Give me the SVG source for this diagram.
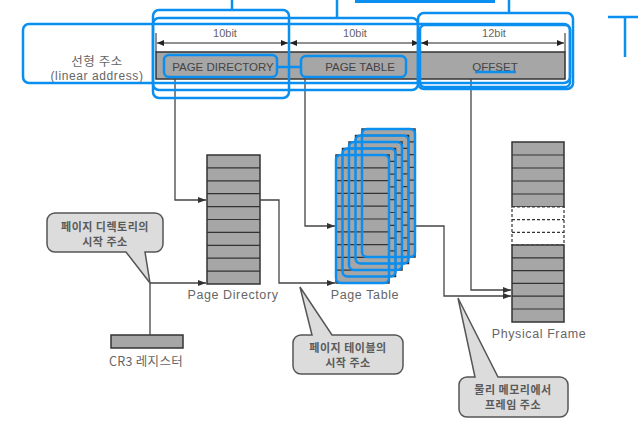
<svg xmlns="http://www.w3.org/2000/svg" width="640" height="433" viewBox="0 0 640 433">
<defs>
<marker id="ah" markerWidth="8" markerHeight="6" refX="8" refY="3" orient="auto" markerUnits="userSpaceOnUse"><path d="M0,0 L8,3 L0,6 z" fill="#333"/></marker>
<marker id="ahs" markerWidth="7" markerHeight="6" refX="7" refY="3" orient="auto-start-reverse" markerUnits="userSpaceOnUse"><path d="M0,0 L7,3 L0,6 z" fill="#222"/></marker>
<style>
.t{font-family:"Liberation Sans","Noto Sans CJK KR",sans-serif;fill:#666;}
.k{font-family:"Noto Sans CJK KR","Liberation Sans",sans-serif;fill:#666;}
.cb{font-family:"Noto Sans CJK KR","Liberation Sans",sans-serif;fill:#5a5a5a;font-weight:bold;font-size:11px;letter-spacing:0.5px;}
.bar{fill:#a6a6a6;stroke:#333;stroke-width:1.5;}
.tbl{fill:#a6a6a6;stroke:#333;stroke-width:1.5;}
.row{stroke:#333;stroke-width:1.2;fill:none;}
.ln{stroke:#444;stroke-width:1.3;fill:none;}
.dim{stroke:#222;stroke-width:1;fill:none;}
.call{fill:#dcdcdc;stroke:#555;stroke-width:1.5;}
.blue{fill:none;stroke:#0a8ef0;stroke-width:2.5;}
</style>
</defs>
<rect width="640" height="433" fill="#fff"/>

<g id="linear-address">
  <text class="k" x="97" y="66" font-size="12.5" text-anchor="middle" letter-spacing="0.5">선형 주소</text>
  <text class="t" x="97" y="80" font-size="12" text-anchor="middle" letter-spacing="0.6">(linear address)</text>
  <rect class="bar" x="156" y="52" width="409" height="27"/>
  <line x1="289" y1="52" x2="289" y2="79" stroke="#333" stroke-width="1.2"/>
  <line x1="420" y1="52" x2="420" y2="79" stroke="#333" stroke-width="1.2"/>
  <text class="t" x="223" y="71" font-size="11.5" text-anchor="middle" style="fill:#444">PAGE DIRECTORY</text>
  <text class="t" x="360" y="71" font-size="11.5" text-anchor="middle" style="fill:#444">PAGE TABLE</text>
  <text class="t" x="495" y="71" font-size="11.5" text-anchor="middle" style="fill:#444">OFFSET</text>
  <line class="dim" x1="156" y1="33" x2="156" y2="52"/>
  <line class="dim" x1="565" y1="33" x2="565" y2="52"/>
  <line class="dim" x1="289" y1="39" x2="289" y2="47"/>
  <line class="dim" x1="420" y1="39" x2="420" y2="47"/>
  <line class="dim" x1="157" y1="43" x2="288" y2="43" marker-start="url(#ahs)" marker-end="url(#ahs)"/>
  <line class="dim" x1="290" y1="43" x2="419" y2="43" marker-start="url(#ahs)" marker-end="url(#ahs)"/>
  <line class="dim" x1="421" y1="43" x2="564" y2="43" marker-start="url(#ahs)" marker-end="url(#ahs)"/>
  <text class="t" x="225" y="37" font-size="11" text-anchor="middle">10bit</text>
  <text class="t" x="355" y="37" font-size="11" text-anchor="middle">10bit</text>
  <text class="t" x="494" y="37" font-size="11" text-anchor="middle">12bit</text>
</g>

<g id="page-directory">
  <rect class="tbl" x="207" y="155" width="53" height="129"/>
  <path class="row" d="M207,167.9H260M207,180.8H260M207,193.7H260M207,206.6H260M207,219.5H260M207,232.4H260M207,245.3H260M207,258.2H260M207,271.1H260"/>
  <text class="t" x="233" y="299" font-size="12.5" text-anchor="middle" letter-spacing="0.6">Page Directory</text>
</g>

<g id="page-table">
  <g>
    <rect class="tbl" x="362" y="129" width="53" height="128"/>
    <path class="row" d="M362,141.8h53M362,154.6h53M362,167.4h53M362,180.2h53M362,193h53M362,205.8h53M362,218.6h53M362,231.4h53M362,244.2h53"/>
  </g>
  <g>
    <rect class="tbl" x="355.5" y="135.5" width="53" height="128"/>
    <path class="row" d="M355.5,148.3h53M355.5,161.1h53M355.5,173.9h53M355.5,186.7h53M355.5,199.5h53M355.5,212.3h53M355.5,225.1h53M355.5,237.9h53M355.5,250.7h53"/>
  </g>
  <g>
    <rect class="tbl" x="349" y="142" width="53" height="128"/>
    <path class="row" d="M349,154.8h53M349,167.6h53M349,180.4h53M349,193.2h53M349,206h53M349,218.8h53M349,231.6h53M349,244.4h53M349,257.2h53"/>
  </g>
  <g>
    <rect class="tbl" x="342.5" y="148.5" width="53" height="128"/>
    <path class="row" d="M342.5,161.3h53M342.5,174.1h53M342.5,186.9h53M342.5,199.7h53M342.5,212.5h53M342.5,225.3h53M342.5,238.1h53M342.5,250.9h53M342.5,263.7h53"/>
  </g>
  <g>
    <rect class="tbl" x="336" y="155" width="53" height="128"/>
    <path class="row" d="M336,167.8h53M336,180.6h53M336,193.4h53M336,206.2h53M336,219h53M336,231.8h53M336,244.6h53M336,257.4h53M336,270.2h53"/>
  </g>
  <text class="t" x="365" y="299" font-size="12.5" text-anchor="middle" letter-spacing="0.6">Page Table</text>
</g>

<g id="physical-frame">
  <rect class="tbl" x="512" y="142" width="52" height="65"/>
  <path class="row" d="M512,155h52M512,168h52M512,181h52M512,194h52"/>
  <rect x="512" y="207" width="52" height="38" fill="#fff" stroke="#333" stroke-width="1.2" stroke-dasharray="3,2"/>
  <path class="row" d="M512,219.7h52M512,232.3h52" stroke-dasharray="3,2"/>
  <rect class="tbl" x="512" y="245" width="52" height="77"/>
  <path class="row" d="M512,257.8h52M512,270.6h52M512,283.4h52M512,296.2h52M512,309h52"/>
  <text class="t" x="539" y="338" font-size="12.5" text-anchor="middle" letter-spacing="0.6">Physical Frame</text>
</g>

<g id="cr3">
  <rect class="bar" x="111" y="335" width="72" height="13"/>
  <text class="k" x="146" y="366" font-size="12.5" text-anchor="middle" letter-spacing="0.3">CR3 레지스터</text>
</g>

<g id="connectors">
  <path class="ln" d="M175,79V200H206" marker-end="url(#ah)"/>
  <path class="ln" d="M150,335V283H206" marker-end="url(#ah)"/>
  <path class="ln" d="M260,200H279V283H335" marker-end="url(#ah)"/>
  <path class="ln" d="M305,79V226H335" marker-end="url(#ah)"/>
  <path class="ln" d="M415,226H444V296H511" marker-end="url(#ah)"/>
  <path class="ln" d="M471,79V290H511" marker-end="url(#ah)"/>
</g>

<g id="callout-pd">
  <path class="call" d="M55,213H155a8,8 0 0 1 8,8V244a8,8 0 0 1 -8,8H145L150,283L126,252H55a8,8 0 0 1 -8,-8V221a8,8 0 0 1 8,-8z"/>
  <text class="cb" x="105" y="231" text-anchor="middle">페이지 디렉토리의</text>
  <text class="cb" x="105" y="246" text-anchor="middle">시작 주소</text>
</g>

<g id="callout-pt">
  <path class="call" d="M301,335H312L300,287L332,335H395a8,8 0 0 1 8,8V366a8,8 0 0 1 -8,8H301a8,8 0 0 1 -8,-8V343a8,8 0 0 1 8,-8z"/>
  <text class="cb" x="348" y="352" text-anchor="middle">페이지 테이블의</text>
  <text class="cb" x="348" y="367" text-anchor="middle">시작 주소</text>
</g>

<g id="callout-pf">
  <path class="call" d="M467,377H475L458,298L498,377H560a8,8 0 0 1 8,8V409a8,8 0 0 1 -8,8H467a8,8 0 0 1 -8,-8V385a8,8 0 0 1 8,-8z"/>
  <text class="cb" x="513" y="394" text-anchor="middle">물리 메모리에서</text>
  <text class="cb" x="513" y="409" text-anchor="middle">프레임 주소</text>
</g>

<g id="annotations">
  <rect class="blue" x="23" y="24" width="547" height="59" rx="6"/>
  <rect class="blue" x="153" y="10" width="136" height="88" rx="6"/>
  <rect class="blue" x="153" y="18" width="265" height="72" rx="6"/>
  <rect class="blue" x="418" y="13" width="155" height="76" rx="6"/>
  <rect class="blue" x="420" y="25" width="150" height="62" rx="5"/>
  <line class="blue" x1="232" y1="0" x2="232" y2="10"/>
  <line class="blue" x1="337" y1="0" x2="337" y2="18"/>
  <line class="blue" x1="509" y1="0" x2="509" y2="13"/>
  <rect x="355" y="0" width="140" height="3" fill="#0a8ef0"/>
  <path class="blue" d="M608,17H638M625,17V57"/>
  <rect class="blue" x="164" y="55" width="113" height="22" rx="5"/>
  <rect class="blue" x="301" y="56" width="105" height="21" rx="5"/>
  <line class="blue" x1="277" y1="67" x2="301" y2="67"/>
  <line class="blue" x1="475" y1="72" x2="516" y2="72"/>
  <rect class="blue" x="362" y="129" width="53" height="128" rx="5"/>
  <rect class="blue" x="355.5" y="135.5" width="53" height="128" rx="5"/>
  <rect class="blue" x="349" y="142" width="53" height="128" rx="5"/>
  <rect class="blue" x="342.5" y="148.5" width="53" height="128" rx="5"/>
  <rect class="blue" x="336" y="155" width="53" height="128" rx="5"/>
</g>
</svg>
